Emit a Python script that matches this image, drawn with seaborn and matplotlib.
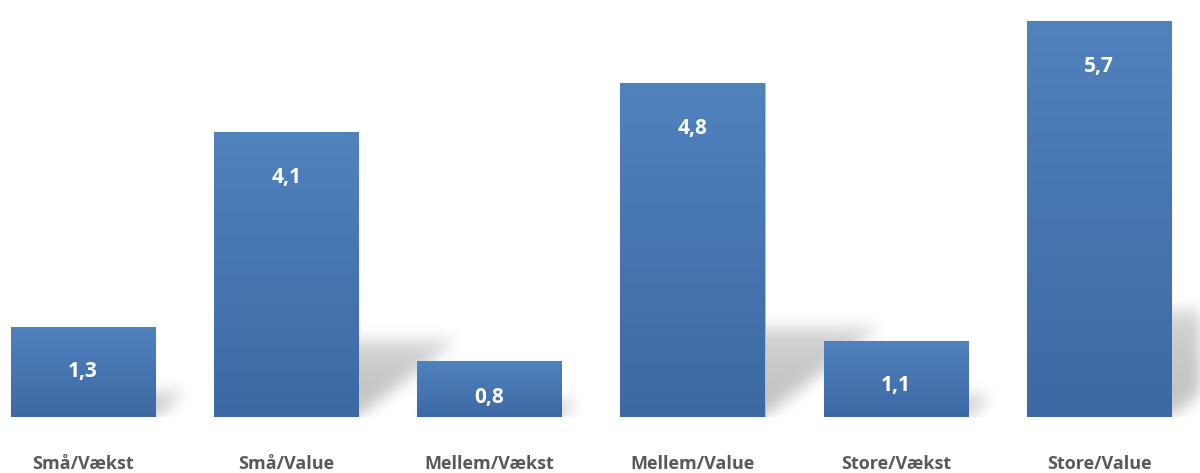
"""
plot.py - Bar chart of size/style segments with gradient bars and soft shadows.
"""

import matplotlib
matplotlib.use("Agg")
import matplotlib.pyplot as plt
import numpy as np
import pandas as pd
import seaborn as sns
from matplotlib.path import Path

categories = ["Små/Vækst", "Små/Value", "Mellem/Vækst", "Mellem/Value", "Store/Vækst", "Store/Value"]
values = [1.3, 4.1, 0.8, 4.8, 1.1, 5.7]
value_labels = ["1,3", "4,1", "0,8", "4,8", "1,1", "5,7"]

TOP_COLOR = np.array([0x50, 0x82, 0xBE]) / 255
BOTTOM_COLOR = np.array([0x3C, 0x69, 0xA4]) / 255
TEXT_GRAY = "#595959"

W, H = 1200, 473
X_LIM = (-0.408, 5.497)
Y_LIM = (0, 6.0)

sns.set_style("white")
plt.rcParams["font.family"] = ["Open Sans", "DejaVu Sans"]

df = pd.DataFrame({"segment": categories, "value": values})

fig = plt.figure(figsize=(W / 100, H / 100), dpi=100)
ax = fig.add_axes([0, 56 / H, 1, 417 / H])

sns.barplot(data=df, x="segment", y="value", color=TOP_COLOR, width=0.71,
            saturation=1, ax=ax, zorder=3)
ax.set_xlim(*X_LIM)
ax.set_ylim(*Y_LIM)

# shadow: sheared, blurred copy of each bar falling to the upper right
nx, ny = W, 417
gx = np.linspace(X_LIM[0], X_LIM[1], nx)
gy = np.linspace(Y_LIM[0], Y_LIM[1], ny)
XX, YY = np.meshgrid(gx, gy)
pts = np.column_stack([XX.ravel(), YY.ravel()])
mask = np.zeros(XX.shape)
for p in ax.patches:
    x0, w, h = p.get_x(), p.get_width(), p.get_height()
    sh = 0.27 * h
    dx = 0.12 * h
    poly = Path([(x0, 0), (x0 + w, 0), (x0 + w + dx, sh), (x0 + dx, sh), (x0, 0)])
    inside = poly.contains_points(pts).reshape(XX.shape).astype(float)
    fade = np.clip(1 - 0.35 * (YY / sh) ** 3, 0, 1)
    mask = np.maximum(mask, inside * fade)


def blur(a, sigma, axis):
    r = int(3 * sigma)
    k = np.exp(-0.5 * (np.arange(-r, r + 1) / sigma) ** 2)
    k /= k.sum()
    return np.apply_along_axis(lambda m: np.convolve(m, k, mode="same"), axis, a)


mask = blur(blur(mask, 8, 0), 6, 1)
shadow = np.zeros((ny, nx, 4))
shadow[..., 3] = 0.23 * mask
ax.imshow(shadow, extent=(X_LIM[0], X_LIM[1], Y_LIM[0], Y_LIM[1]), origin="lower",
          aspect="auto", zorder=1, interpolation="bilinear")

# vertical gradient fill inside each bar
grad = np.linspace(0, 1, 256)[:, None]
grad_img = BOTTOM_COLOR[None, None, :] * (1 - grad[..., None]) + TOP_COLOR[None, None, :] * grad[..., None]
for p in ax.patches:
    x0, w, h = p.get_x(), p.get_width(), p.get_height()
    p.set_edgecolor("#a9c0de")
    p.set_linewidth(0.8)
    im = ax.imshow(grad_img, extent=(x0, x0 + w, 0, h), origin="lower", aspect="auto", zorder=4)
    im.set_clip_path(p)

for i, (v, lab) in enumerate(zip(values, value_labels)):
    ax.text(i, max(v - 0.65, 0.28), lab, ha="center", va="center", color="white",
            fontsize=15, fontweight="bold", zorder=6)

ax.set_xlim(*X_LIM)
ax.set_ylim(*Y_LIM)
ax.set_xlabel("")
ax.set_ylabel("")
ax.set_yticks([])
ax.tick_params(axis="x", length=0, pad=27)
for t in ax.get_xticklabels():
    t.set_fontsize(13)
    t.set_fontweight("bold")
    t.set_color(TEXT_GRAY)
sns.despine(ax=ax, left=True, bottom=True)

fig.savefig("out.png", dpi=100)
plt.close(fig)
